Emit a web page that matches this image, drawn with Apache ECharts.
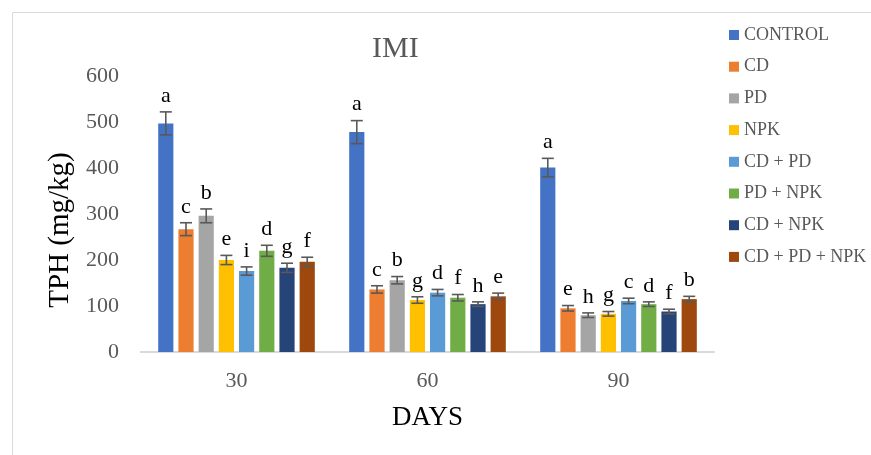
<!DOCTYPE html>
<html>
<head>
<meta charset="utf-8">
<script src="https://cdn.jsdelivr.net/npm/echarts@6/dist/echarts.min.js"></script>
<style>
html,body{margin:0;padding:0;background:#fff;}
#chart{width:871px;height:455px;}
</style>
</head>
<body>
<div id="chart"></div>
<script>
const categories = ['30', '60', '90'];
const seriesNames = ['CONTROL', 'CD', 'PD', 'NPK', 'CD + PD', 'PD + NPK', 'CD + NPK', 'CD + PD + NPK'];
const yMin = 0, yMax = 600, yInterval = 100;

const valControl  = [497, 478, 401];
const valCD       = [267, 136, 95];
const valPD       = [296, 156, 80];
const valNPK      = [200, 113, 83];
const valCDPD     = [176, 129, 111];
const valPDNPK    = [220, 118, 104];
const valCDNPK    = [183, 104, 88];
const valCDPDNPK  = [196, 121, 115];

const errControl  = [25, 25, 20];
const errCD       = [14, 8, 6];
const errPD       = [15, 8, 5];
const errNPK      = [10, 7, 5];
const errCDPD     = [9, 7, 6];
const errPDNPK    = [12, 7, 5];
const errCDNPK    = [10, 5, 5];
const errCDPDNPK  = [10, 7, 6];

const letControl  = ['a', 'a', 'a'];
const letCD       = ['c', 'c', 'e'];
const letPD       = ['b', 'b', 'h'];
const letNPK      = ['e', 'g', 'g'];
const letCDPD     = ['i', 'd', 'c'];
const letPDNPK    = ['d', 'f', 'd'];
const letCDNPK    = ['g', 'h', 'f'];
const letCDPDNPK  = ['f', 'e', 'b'];

const values  = [valControl, valCD, valPD, valNPK, valCDPD, valPDNPK, valCDNPK, valCDPDNPK];
const errors  = [errControl, errCD, errPD, errNPK, errCDPD, errPDNPK, errCDNPK, errCDPDNPK];
const letters = [letControl, letCD, letPD, letNPK, letCDPD, letPDNPK, letCDNPK, letCDPDNPK];
const colors = ['#4472C4', '#ED7D31', '#A5A5A5', '#FFC000', '#5B9BD5', '#70AD47', '#264478', '#9E480E'];

const FONT = '"Liberation Serif", "Times New Roman", serif';
const CAT_GAP = 0.18, BAR_GAP = 0.33;
const N = seriesNames.length;

const series = [];
seriesNames.forEach((name, si) => {
  series.push({
    name: name,
    type: 'bar',
    data: values[si],
    barGap: (BAR_GAP * 100) + '%',
    barCategoryGap: (CAT_GAP * 100) + '%',
    itemStyle: { color: colors[si] },
    emphasis: { disabled: true },
    z: 2
  });
});
seriesNames.forEach((name, si) => {
  series.push({
    name: 'err_' + si,
    type: 'custom',
    data: categories.map((c, i) => [i, values[si][i], errors[si][i]]),
    z: 5,
    silent: true,
    renderItem: function (params, api) {
      const ci = api.value(0), v = api.value(1), e = api.value(2);
      const band = api.size([1, 0])[0];
      const avail = band * (1 - CAT_GAP);
      const bw = avail / (N + (N - 1) * BAR_GAP);
      const step = bw * (1 + BAR_GAP);
      const x = api.coord([ci, 0])[0] + (si - (N - 1) / 2) * step;
      const yT = api.coord([ci, v + e])[1];
      const yB = api.coord([ci, v - e])[1];
      const cap = 6;
      const st = { stroke: '#595959', lineWidth: 1.6 };
      return {
        type: 'group',
        children: [
          { type: 'line', shape: { x1: x, y1: yT, x2: x, y2: yB }, style: st },
          { type: 'line', shape: { x1: x - cap, y1: yT, x2: x + cap, y2: yT }, style: st },
          { type: 'line', shape: { x1: x - cap, y1: yB, x2: x + cap, y2: yB }, style: st },
          { type: 'text', x: x, y: yT - 5, style: {
              text: letters[si][params.dataIndex], fill: '#000', font: '22px ' + FONT,
              textAlign: 'center', textVerticalAlign: 'bottom' } }
        ]
      };
    }
  });
});

const chart = echarts.init(document.getElementById('chart'));
chart.setOption({
  animation: false,
  backgroundColor: '#fff',
  graphic: [{
    type: 'rect', shape: { x: 12.5, y: 12.5, width: 900, height: 500 },
    style: { fill: 'none', stroke: '#d9d9d9', lineWidth: 1 }, silent: true, z: -10
  }],
  title: {
    text: 'IMI', left: 372, top: 34, padding: 0,
    textStyle: { fontFamily: FONT, fontSize: 30, fontWeight: 'normal', color: '#595959' }
  },
  legend: {
    data: seriesNames,
    orient: 'vertical',
    left: 729, top: 26,
    itemWidth: 10, itemHeight: 10, itemGap: 13.7,
    icon: 'rect',
    padding: 0,
    textStyle: { fontFamily: FONT, fontSize: 18, color: '#595959', lineHeight: 18 }
  },
  grid: { left: 141, right: 157, top: 76, bottom: 103, containLabel: false },
  xAxis: {
    type: 'category',
    data: categories,
    name: 'DAYS',
    nameLocation: 'middle',
    nameGap: 52,
    nameTextStyle: { fontFamily: FONT, fontSize: 27, color: '#000' },
    axisLine: { show: true, lineStyle: { color: '#d9d9d9', width: 2 } },
    axisTick: { show: false },
    axisLabel: { fontFamily: FONT, fontSize: 22, color: '#595959', margin: 18 },
    splitLine: { show: false }
  },
  yAxis: {
    type: 'value',
    min: yMin, max: yMax, interval: yInterval,
    name: 'TPH (mg/kg)',
    nameLocation: 'middle',
    nameGap: 62,
    nameTextStyle: { fontFamily: FONT, fontSize: 29, color: '#000', padding: [0, 32, 0, 0] },
    axisLine: { show: false },
    axisTick: { show: false },
    axisLabel: { fontFamily: FONT, fontSize: 22, color: '#595959', margin: 22 },
    splitLine: { show: false }
  },
  series: series
});
</script>
</body>
</html>
